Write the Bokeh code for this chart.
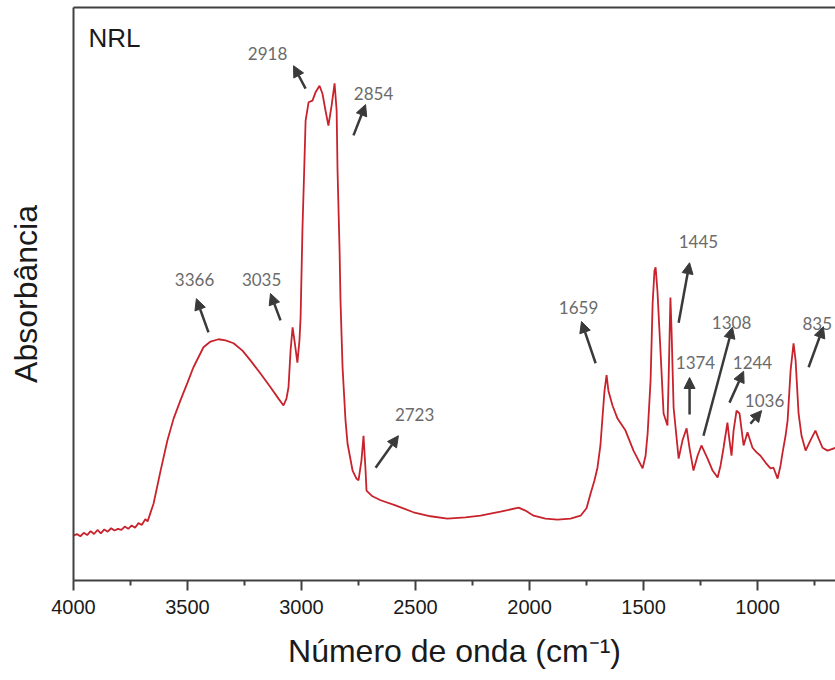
from bokeh.plotting import figure
from bokeh.models import Range1d, FixedTicker, LinearAxis, Arrow, NormalHead, ColumnDataSource
from bokeh.core.properties import value
from bokeh.embed import file_html
from bokeh.resources import INLINE

# ---- spectrum (wavenumber in cm-1, absorbance in arbitrary units) ----
wavenumber = [4000, 3985, 3970, 3955, 3940, 3925, 3910, 3895, 3880, 3865, 3850, 3835, 3820, 3805, 3790,
              3775, 3760, 3745, 3730, 3715, 3700, 3685, 3675, 3660, 3649,
              3618, 3588, 3561, 3531, 3500, 3474, 3430, 3399, 3364, 3333,
              3298, 3259, 3224, 3180, 3136, 3101, 3079, 3066, 3057, 3048,
              3039, 3031, 3018, 3009, 3004, 2996, 2987, 2982, 2969, 2952,
              2939, 2921, 2908, 2895, 2882, 2868, 2855, 2846, 2842, 2833,
              2829, 2820, 2807, 2798, 2776, 2759, 2750, 2737, 2728, 2719,
              2715, 2689, 2653, 2588, 2509, 2434, 2360, 2281, 2215, 2127,
              2048, 2018, 1982, 1930, 1877, 1820, 1776, 1750, 1732, 1715,
              1702, 1689, 1680, 1671, 1662, 1654, 1636, 1614, 1579, 1544,
              1522, 1504, 1491, 1482, 1469, 1460, 1452, 1447, 1439, 1425,
              1412, 1395, 1390, 1382, 1377, 1368, 1346, 1329, 1311, 1298,
              1281, 1263, 1246, 1219, 1197, 1175, 1162, 1149, 1132, 1123,
              1114, 1105, 1092, 1079, 1061, 1044, 1022, 1004, 987, 965,
              943, 930, 912, 899, 890, 877, 868, 855, 842, 833,
              820, 807, 789, 768, 746, 732, 715, 693, 658]

absorbance = [0.075, 0.078, 0.074, 0.080, 0.076, 0.083, 0.078, 0.085, 0.079, 0.086, 0.082, 0.088, 0.084, 0.087, 0.085,
              0.091, 0.087, 0.093, 0.089, 0.097, 0.094, 0.104, 0.100, 0.118, 0.131,
              0.189, 0.242, 0.280, 0.312, 0.343, 0.370, 0.405, 0.415, 0.419, 0.417,
              0.412, 0.399, 0.382, 0.359, 0.335, 0.315, 0.303, 0.315, 0.335, 0.399,
              0.440, 0.417, 0.378, 0.417, 0.457, 0.609, 0.732, 0.802, 0.834, 0.837,
              0.851, 0.863, 0.849, 0.820, 0.793, 0.828, 0.867, 0.820, 0.715, 0.574,
              0.487, 0.370, 0.277, 0.236, 0.189, 0.175, 0.172, 0.207, 0.250, 0.189,
              0.154, 0.144, 0.137, 0.128, 0.116, 0.109, 0.105, 0.107, 0.110, 0.117,
              0.124, 0.119, 0.110, 0.105, 0.103, 0.105, 0.110, 0.123, 0.149, 0.172,
              0.194, 0.233, 0.282, 0.329, 0.356, 0.329, 0.303, 0.280, 0.259, 0.224,
              0.207, 0.193, 0.215, 0.254, 0.347, 0.482, 0.539, 0.545, 0.504, 0.394,
              0.289, 0.268, 0.347, 0.492, 0.434, 0.299, 0.210, 0.242, 0.263, 0.228,
              0.189, 0.215, 0.233, 0.210, 0.189, 0.177, 0.198, 0.229, 0.273, 0.242,
              0.215, 0.259, 0.294, 0.289, 0.233, 0.256, 0.229, 0.221, 0.215, 0.203,
              0.193, 0.194, 0.175, 0.198, 0.221, 0.250, 0.277, 0.364, 0.412, 0.382,
              0.289, 0.250, 0.224, 0.242, 0.259, 0.245, 0.229, 0.224, 0.229]

# ---- axis ticks ----
x_major_ticks = [4000, 3500, 3000, 2500, 2000, 1500, 1000]
x_minor_ticks = [3750, 3250, 2750, 2250, 1750, 1250, 750]

# ---- peak annotations ----
peak_labels = ["2918", "2854", "3366", "3035", "2723", "1659", "1445", "1308", "1374", "1244", "1036", "835"]
label_x = [3149, 2684, 3469, 3175, 2504, 1785, 1259, 1114, 1272, 1022, 969, 738]
label_y = [0.919, 0.849, 0.524, 0.524, 0.287, 0.475, 0.590, 0.448, 0.378, 0.378, 0.312, 0.447]
arrow_x0 = [2982, 2772, 3408, 3092, 2675, 1710, 1346, 1237, 1298, 1123, 1031, 776]
arrow_y0 = [0.858, 0.776, 0.431, 0.452, 0.194, 0.377, 0.448, 0.250, 0.287, 0.308, 0.271, 0.370]
arrow_x1 = [3035, 2719, 3461, 3136, 2575, 1772, 1298, 1110, 1298, 1061, 982, 711]
arrow_y1 = [0.898, 0.830, 0.490, 0.499, 0.250, 0.450, 0.553, 0.440, 0.352, 0.363, 0.294, 0.441]

sample_name = "NRL"

AXIS_COLOR = "#404040"
FONT = "Liberation Sans"

p = figure(width=835, height=680,
           x_range=Range1d(4000, 658), y_range=Range1d(-0.0035, 1.0),
           output_backend="svg", toolbar_location=None,
           min_border_left=73, min_border_right=0, min_border_top=7, min_border_bottom=100,
           background_fill_color="white", border_fill_color="white")
p.outline_line_color = None
p.xgrid.grid_line_color = None
p.ygrid.grid_line_color = None

# bottom axis
xa = p.xaxis[0]
xa.ticker = FixedTicker(ticks=x_major_ticks, minor_ticks=x_minor_ticks)
xa.axis_line_color = AXIS_COLOR
xa.axis_line_width = 2
xa.major_tick_line_color = AXIS_COLOR
xa.major_tick_line_width = 2
xa.minor_tick_line_color = AXIS_COLOR
xa.minor_tick_line_width = 2
xa.major_tick_in = 0
xa.major_tick_out = 10
xa.minor_tick_in = 0
xa.minor_tick_out = 5
xa.major_label_standoff = 9
xa.major_label_text_font = FONT
xa.major_label_text_font_size = "20px"
xa.major_label_text_color = "#1a1a1a"
xa.axis_label = "Número de onda (cm⁻¹)"
xa.axis_label_text_font = FONT
xa.axis_label_text_font_size = "32px"
xa.axis_label_text_font_style = "normal"
xa.axis_label_text_color = "#1a1a1a"
xa.axis_label_standoff = 16

# left axis (no ticks)
ya = p.yaxis[0]
ya.ticker = FixedTicker(ticks=[])
ya.axis_line_color = AXIS_COLOR
ya.axis_line_width = 2
ya.major_tick_line_color = None
ya.minor_tick_line_color = None
ya.major_tick_out = 0
ya.minor_tick_out = 0
ya.major_label_standoff = 0
ya.axis_label = "Absorbância"
ya.axis_label_text_font = FONT
ya.axis_label_text_font_size = "32px"
ya.axis_label_text_font_style = "normal"
ya.axis_label_text_color = "#1a1a1a"
ya.axis_label_standoff = 30

# top border line
top = LinearAxis(ticker=FixedTicker(ticks=[]), axis_line_color=AXIS_COLOR, axis_line_width=2,
                 major_tick_line_color=None, minor_tick_line_color=None,
                 major_tick_out=0, minor_tick_out=0, major_label_standoff=0)
p.add_layout(top, "above")

# spectrum
p.line(wavenumber, absorbance, line_color="#c8232c", line_width=1.8)

# arrows
arrow_src = ColumnDataSource(dict(x0=arrow_x0, y0=arrow_y0, x1=arrow_x1, y1=arrow_y1))
p.add_layout(Arrow(end=NormalHead(size=11, fill_color="#3a3a3a", line_color="#3a3a3a"),
                   x_start="x0", y_start="y0", x_end="x1", y_end="y1",
                   source=arrow_src, line_color="#3a3a3a", line_width=2.5))

# peak labels
lab_src = ColumnDataSource(dict(x=label_x, y=label_y, t=peak_labels))
p.text(x="x", y="y", text="t", source=lab_src, text_font=value("Lato"), text_font_size="17px",
       text_color="#6b6b6b", text_align="center", text_baseline="middle")

# sample name
p.text(x=[3934], y=[0.972], text=[sample_name], text_font=value(FONT), text_font_size="26px",
       text_color="#1a1a1a", text_align="left", text_baseline="top")

open("out.html", "w").write(file_html(p, INLINE))
